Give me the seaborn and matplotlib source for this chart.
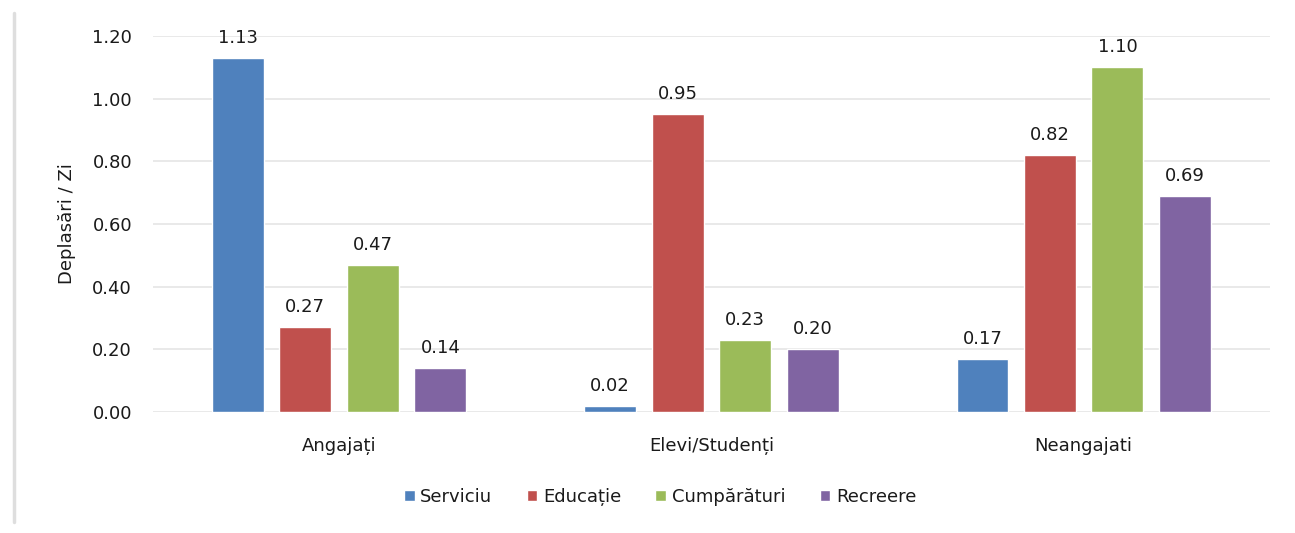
import matplotlib
matplotlib.use("Agg")
import matplotlib.pyplot as plt
from matplotlib.lines import Line2D
import seaborn as sns
import pandas as pd

# Trips per day by person category and trip purpose
categories = ["Angajați", "Elevi/Studenți", "Neangajati"]
purposes = ["Serviciu", "Educație", "Cumpărături", "Recreere"]
serviciu = [1.13, 0.02, 0.17]
educatie = [0.27, 0.95, 0.82]
cumparaturi = [0.47, 0.23, 1.10]
recreere = [0.14, 0.20, 0.69]
y_ticks = [0.0, 0.2, 0.4, 0.6, 0.8, 1.0, 1.2]
y_label = "Deplasări / Zi"

colors = ["#4f81bd", "#c0504d", "#9bbb59", "#8064a2"]

rows = []
for purpose, vals in zip(purposes, [serviciu, educatie, cumparaturi, recreere]):
    for cat, v in zip(categories, vals):
        rows.append({"Categorie": cat, "Scop": purpose, "Valoare": v})
df = pd.DataFrame(rows)

sns.set_theme(style="white")
plt.rcParams["font.family"] = ["DejaVu Sans"]

FS = 13
TXT = "#1a1a1a"

fig = plt.figure(figsize=(12.95, 5.33), dpi=100)
ax = fig.add_axes([0.1181, 0.2270, 0.8625, 0.7054])

sns.barplot(data=df, x="Categorie", y="Valoare", hue="Scop",
            order=categories, hue_order=purposes, palette=colors,
            width=0.725, gap=0.23, saturation=1, ax=ax, zorder=3)

for container in ax.containers:
    ax.bar_label(container, fmt="%.2f", padding=8, fontsize=FS, color=TXT)

ax.set_ylim(0, 1.2)
ax.set_xlim(-0.5, 2.5)
ax.set_yticks(y_ticks)
ax.set_yticklabels([f"{t:.2f}" for t in y_ticks], fontsize=FS, color=TXT)
ax.tick_params(axis="x", labelsize=FS, colors=TXT, length=0, pad=18)
ax.tick_params(axis="y", length=0, pad=15)
ax.set_xlabel("")
ax.set_ylabel(y_label, fontsize=FS, color=TXT, labelpad=12)
ax.yaxis.grid(True, color="#e3e3e3", linewidth=1.1, zorder=0)
ax.set_axisbelow(True)
for s in ax.spines.values():
    s.set_visible(False)

# legend centred on the whole chart area rather than the plot area
leg = ax.legend(loc="center", bbox_to_anchor=(0.454, -0.226), ncol=4,
                frameon=False, fontsize=FS, handlelength=0.6, handleheight=0.6,
                handletextpad=0.3, columnspacing=1.9)
for t in leg.get_texts():
    t.set_color(TXT)

# light frame line on the left edge of the chart area
fig.add_artist(Line2D([0.0105, 0.0105], [0.02, 0.975], transform=fig.transFigure,
                      color="#dedede", linewidth=2.5))

fig.savefig("out.png", dpi=100, facecolor="white")
